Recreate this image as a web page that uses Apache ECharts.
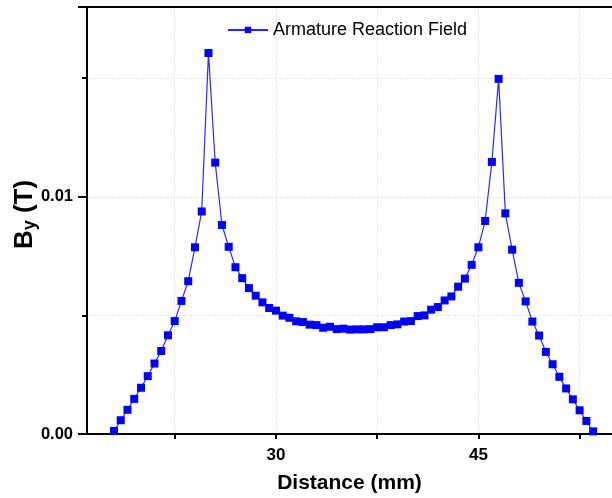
<!DOCTYPE html>
<html>
<head>
<meta charset="utf-8">
<script src="https://cdn.jsdelivr.net/npm/echarts@6/dist/echarts.min.js"></script>
<style>
html,body{margin:0;padding:0;background:#fff;}
#chart{width:612px;height:498px;}
</style>
</head>
<body>
<div id="chart"></div>
<script>
// Distance (mm)
var distance = [
  18.0, 18.5, 19.0, 19.5, 20.0, 20.5, 21.0, 21.5, 22.0, 22.5,
  23.0, 23.5, 24.0, 24.5, 25.0, 25.5, 26.0, 26.5, 27.0, 27.5,
  28.0, 28.5, 29.0, 29.5, 30.0, 30.5, 31.0, 31.5, 32.0, 32.5,
  33.0, 33.5, 34.0, 34.5, 35.0, 35.5, 36.0, 36.5, 37.0, 37.5,
  38.0, 38.5, 39.0, 39.5, 40.0, 40.5, 41.0, 41.5, 42.0, 42.5,
  43.0, 43.5, 44.0, 44.5, 45.0, 45.5, 46.0, 46.5, 47.0, 47.5,
  48.0, 48.5, 49.0, 49.5, 50.0, 50.5, 51.0, 51.5, 52.0, 52.5,
  53.0, 53.5
];
// By (T) - Armature Reaction Field
var fieldBy = [
  0.00013, 0.00058, 0.00102, 0.00148, 0.00195, 0.00244, 0.00297, 0.00350, 0.00416, 0.00476,
  0.00561, 0.00644, 0.00787, 0.00938, 0.01606, 0.01144, 0.00881, 0.00789, 0.00703, 0.00657,
  0.00615, 0.00583, 0.00555, 0.00531, 0.00520, 0.00499, 0.00490, 0.00475, 0.00472, 0.00461,
  0.00459, 0.00448, 0.00452, 0.00442, 0.00444, 0.00440, 0.00441, 0.00441, 0.00442, 0.00450,
  0.00450, 0.00459, 0.00462, 0.00474, 0.00476, 0.00497, 0.00500, 0.00524, 0.00535, 0.00563,
  0.00580, 0.00621, 0.00655, 0.00713, 0.00787, 0.00898, 0.01147, 0.01497, 0.00930, 0.00777,
  0.00637, 0.00559, 0.00474, 0.00415, 0.00346, 0.00294, 0.00241, 0.00192, 0.00146, 0.00100,
  0.00055, 0.00011
];
var xTickValues = [22.5, 30, 37.5, 45, 52.5];
var xLabelValues = [30, 45];
var yLabelValues = ['0.00', '0.01'];
var seriesName = 'Armature Reaction Field';

var points = distance.map(function (d, i) { return [d, fieldBy[i]]; });

var font = '"Liberation Sans", Arial, sans-serif';
var chart = echarts.init(document.getElementById('chart'), null, {renderer: 'canvas'});
chart.setOption({
  animation: false,
  backgroundColor: '#ffffff',
  grid: {left: 87, right: 0, top: 7, bottom: 64, containLabel: false, outerBoundsMode: 'none'},
  legend: {
    data: [seriesName],
    left: 222, top: 16,
    itemWidth: 40, itemHeight: 8, itemGap: 5,
    textStyle: {fontFamily: font, fontSize: 18, color: '#000'}
  },
  xAxis: [{
    type: 'value', min: 16, max: 54.9,
    name: 'Distance (mm)', nameLocation: 'middle', nameGap: 39,
    nameTextStyle: {fontFamily: font, fontSize: 21, fontWeight: 'bold', color: '#000'},
    axisLine: {show: true, onZero: false, lineStyle: {color: '#000', width: 2}},
    axisTick: {show: true, inside: false, length: 5, lineStyle: {color: '#000', width: 2}, customValues: xTickValues},
    axisLabel: {show: true, margin: 13, fontFamily: font, fontSize: 17, fontWeight: 'bold', color: '#000', customValues: xLabelValues},
    splitLine: {show: true, lineStyle: {color: '#e8e8e8', type: 'dashed', width: 1}}
  }, {
    type: 'value', position: 'top', min: 16, max: 54.9,
    axisLine: {show: true, onZero: false, lineStyle: {color: '#000', width: 2}},
    axisTick: {show: false}, axisLabel: {show: false}, splitLine: {show: false}
  }],
  yAxis: [{
    type: 'value', min: 0, max: 0.018, interval: 0.005,
    name: '{b|B}{s|y}{b| (T)}', nameLocation: 'middle', nameGap: 48, nameRotate: 90,
    nameMoveOverlap: false,
    nameTextStyle: {
      padding: [0, 0, 0, 12],
      rich: {
        b: {fontFamily: font, fontSize: 26, fontWeight: 'bold', color: '#000'},
        s: {fontFamily: font, fontSize: 18, fontWeight: 'bold', color: '#000', padding: [10, 0, 0, 0]}
      }
    },
    axisLine: {show: true, onZero: false, lineStyle: {color: '#000', width: 2}},
    axisTick: {show: true, length: 5, lineStyle: {color: '#000', width: 2}},
    axisLabel: {
      show: true, margin: 14, fontFamily: font, fontSize: 16.5, fontWeight: 'bold', color: '#000',
      formatter: function (v) {
        if (Math.abs(v) < 1e-9) return yLabelValues[0];
        if (Math.abs(v - 0.01) < 1e-9) return yLabelValues[1];
        return '';
      }
    },
    splitLine: {show: true, lineStyle: {color: '#e8e8e8', type: 'dashed', width: 1}}
  }, {
    type: 'value', position: 'left', min: 0, max: 0.018, interval: 0.01,
    axisLine: {show: false},
    axisTick: {show: true, length: 9, lineStyle: {color: '#000', width: 2}},
    axisLabel: {show: false}, splitLine: {show: false}
  }],
  series: [{
    name: seriesName, type: 'line', data: points,
    symbol: 'rect', symbolSize: 8, showAllSymbol: true,
    itemStyle: {color: '#0000ff'},
    lineStyle: {color: '#2a2aff', width: 1.2}
  }]
});
</script>
</body>
</html>
